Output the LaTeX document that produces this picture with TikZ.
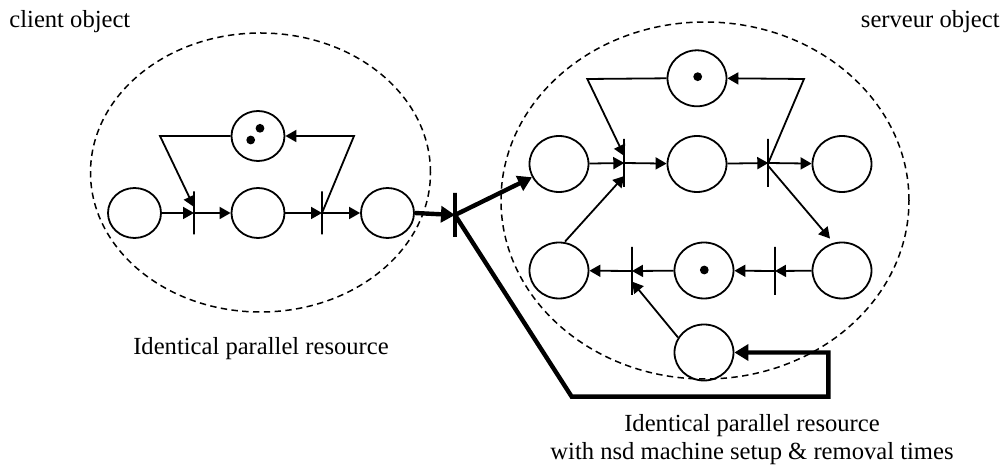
\documentclass[tikz,border=0pt]{standalone}
\usepackage{fontspec}
\setmainfont{Liberation Serif}
\usetikzlibrary{arrows.meta,shapes.geometric,calc}
\begin{document}
\begin{tikzpicture}[x=0.5pt,y=-0.5pt,
  place/.style={draw,ellipse,line width=0.9pt,inner sep=0pt,minimum width=29.5pt,minimum height=28pt},
  lplace/.style={place,minimum width=26.5pt,minimum height=25pt},
  tbar/.style={draw,rectangle,line width=0.9pt,inner sep=0pt,outer sep=0pt,minimum width=0pt,minimum height=24pt},
  lbar/.style={tbar,minimum height=21.5pt},
  thickbar/.style={draw,rectangle,line width=2.2pt,inner sep=0pt,outer sep=0pt,minimum width=0pt,minimum height=22pt},
  arr/.style={line width=0.9pt,-{Triangle[length=5.5pt,width=6pt]}},
  tarr/.style={line width=2.2pt,-{Triangle[length=7pt,width=8pt]}},
  tline/.style={line width=2.2pt,line join=miter},
  cloud/.style={dashed,dash pattern=on 3.2pt off 2.2pt,line width=0.75pt},
  token/.style={fill=black},
  lbl/.style={font=\fontsize{12.3}{13.8}\selectfont,inner sep=0pt}]
\useasboundingbox (0,0) rectangle (1003,475);

% dashed objects
\draw[cloud] (260.5,172.5) ellipse [x radius=85pt, y radius=69.75pt];
\draw[cloud] (705,200.5) ellipse [x radius=102pt, y radius=89.25pt];

% left (client) net
\node[lplace] (L1) at (134.5,213) {};
\node[lplace] (L2) at (258,213) {};
\node[lplace] (L3) at (387.5,213) {};
\node[lplace] (LT) at (258,136) {};
\fill[token] (260,128.3) circle (2.2pt);
\fill[token] (250.7,140) circle (2.2pt);
\node[lbar] (lt1) at (194,213) {};
\node[lbar] (lt2) at (322,213) {};
\coordinate (lk1) at (160,136);
\coordinate (lk2) at (354,136);
\draw[arr] (L1) -- (lt1);
\draw[arr] (lt1) -- (L2);
\draw[arr] (L2) -- (lt2);
\draw[arr] (lt2) -- (L3);
\draw[arr] (LT.west) -- (lk1) -- ([yshift=3pt]lt1.west);
\draw[arr] (lt2.center) -- (lk2) -- (LT.east);

% right (server) net
\node[place] (RT) at (697,78.3) {};
\node[place] (R1) at (559,164) {};
\node[place] (R2) at (697,164) {};
\node[place] (R3) at (842,164) {};
\node[place] (R4) at (559,270.5) {};
\node[place] (R5) at (704,270.5) {};
\node[place] (R6) at (842,270.5) {};
\node[place] (RB) at (704,352.5) {};
\fill[token] (697.7,76.7) circle (2.2pt);
\fill[token] (704.3,270) circle (2.2pt);
\node[tbar] (rt1) at (624.3,163) {};
\node[tbar] (rt2) at (768.3,163) {};
\node[tbar] (rt3) at (632,271) {};
\node[tbar] (rt4) at (775,271) {};
\coordinate (rk1) at (587.3,79);
\coordinate (rk2) at (804,79);
\draw[arr] (R1) -- (rt1);
\draw[arr] (rt1) -- (R2);
\draw[arr] (R2) -- (rt2);
\draw[arr] (rt2) -- (R3);
\draw[arr] (RT.west) -- (rk1) -- ([yshift=3.5pt]rt1.west);
\draw[arr] (rt2.center) -- (rk2) -- (RT.east);
\draw[arr] ([xshift=3pt]R4.north) -- ([yshift=-6.5pt]rt1.west);
\draw[arr] ([yshift=-1.5pt]rt2.center) -- ([xshift=-6pt,yshift=1.5pt]R6.north);
\draw[arr] (R6) -- (rt4);
\draw[arr] (rt4) -- (R5);
\draw[arr] (R5) -- (rt3);
\draw[arr] (rt3) -- (R4);
\draw[arr] (RB.150) -- ([yshift=-5.3pt]rt3.east);

% thick connection
\node[thickbar] (tb) at (455,215) {};
\coordinate (k1) at (571.7,396.7);
\coordinate (k2) at (828.3,396.7);
\coordinate (k3) at (828.3,352.5);
\draw[tarr] (L3.east) -- (tb);
\draw[tarr] (tb.center) -- (R1);
\draw[tline,-{Triangle[length=7pt,width=8pt]}] (tb.center) -- (k1) -- (k2) -- (k3) -- (RB.east);

% labels
\node[lbl,anchor=base west] (t1) at (9,28) {client object};
\node[lbl,anchor=base east] (t2) at (1000,28) {serveur object};
\node[lbl,anchor=base] (t3) at (261,355) {Identical parallel resource};
\node[lbl,anchor=base,align=center] (t4) at (752,459.5) {Identical parallel resource\\with nsd machine setup \& removal times};
\end{tikzpicture}
\end{document}
